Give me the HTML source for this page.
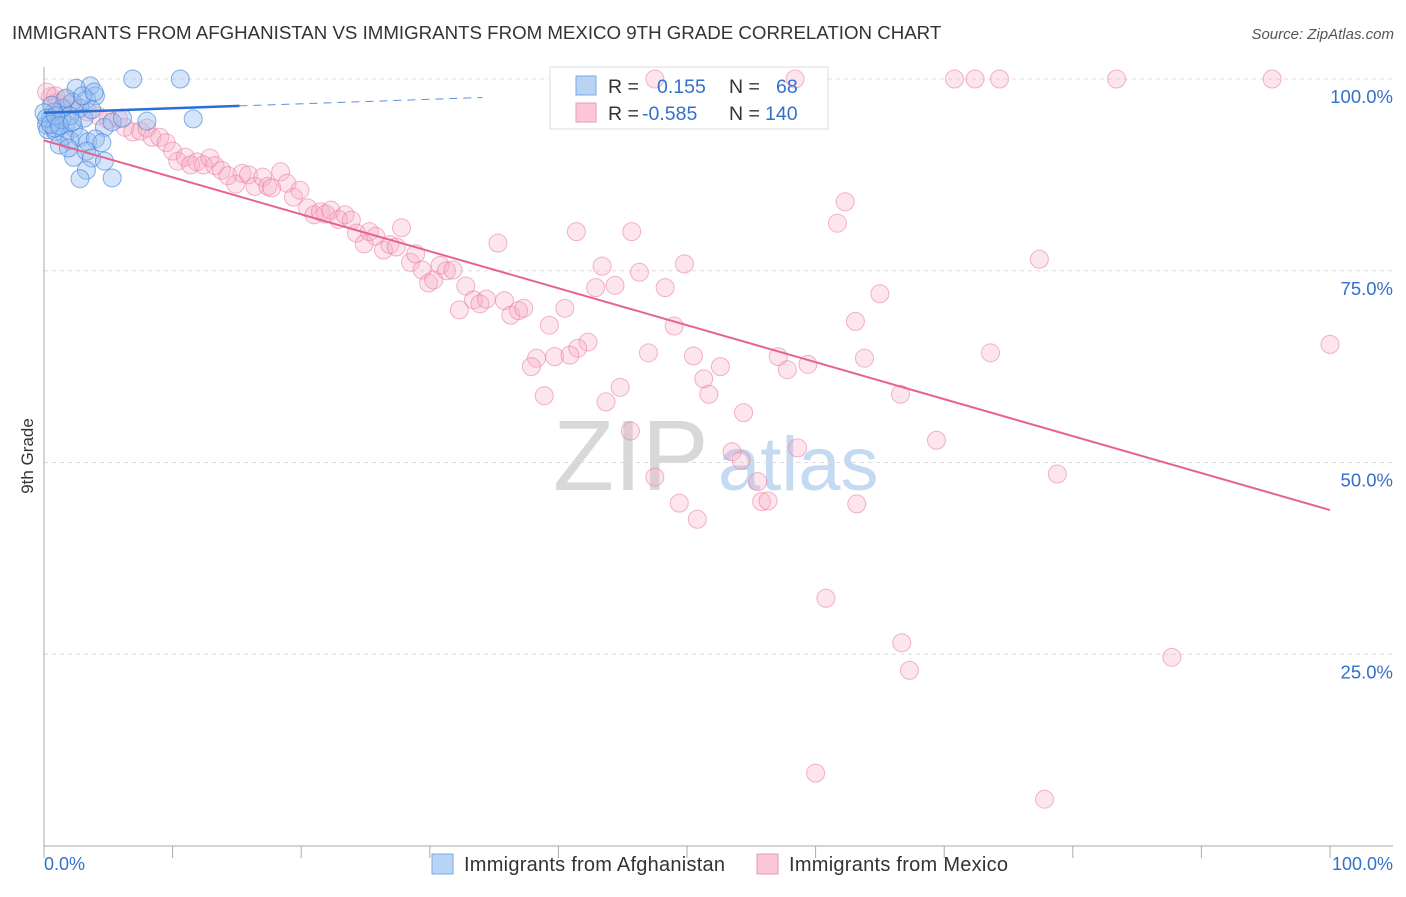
<!DOCTYPE html>
<html><head><meta charset="utf-8"><style>
body{margin:0;background:#fff;font-family:"Liberation Sans",sans-serif;}
svg text{font-family:"Liberation Sans",sans-serif;}
</style></head><body>
<svg id="chart" width="1406" height="892" xmlns="http://www.w3.org/2000/svg">
<text x="12" y="39" font-size="18.7" fill="#333">IMMIGRANTS FROM AFGHANISTAN VS IMMIGRANTS FROM MEXICO 9TH GRADE CORRELATION CHART</text>
<text x="1394" y="39" font-size="15" fill="#555" text-anchor="end" font-style="italic">Source: ZipAtlas.com</text>
<g>
<text x="553" y="490" font-size="100" fill="#d8d8d8" font-family="Liberation Serif,serif">ZIP</text>
<text x="718" y="490" font-size="76" fill="#c4d9f2">atlas</text>
</g>
<g id="grid"></g>
<g id="axes"></g>
<g>
<rect x="550" y="67" width="278" height="62" fill="#fff" stroke="#ddd"/>
</g>
<g id="marks"></g>
<g>
<rect x="576" y="76" width="20" height="19" fill="#b9d3f5" stroke="#7aa8e6"/>
<rect x="576" y="103" width="20" height="19" fill="#fbc6d6" stroke="#ee9ab5"/>
<text x="608" y="93" font-size="19.5" fill="#333">R =</text>
<text x="657" y="93" font-size="19.5" fill="#3370cc">0.155</text>
<text x="729" y="93" font-size="19.5" fill="#333">N =</text>
<text x="776" y="93" font-size="19.5" fill="#3370cc">68</text>
<text x="608" y="120" font-size="19.5" fill="#333">R =</text>
<text x="642" y="120" font-size="19.5" fill="#3370cc">-0.585</text>
<text x="729" y="120" font-size="19.5" fill="#333">N =</text>
<text x="765" y="120" font-size="19.5" fill="#3370cc">140</text>
</g>
<g>
<rect x="432" y="854" width="21" height="20" fill="#b9d3f5" stroke="#7aa8e6"/>
<text x="464" y="871" font-size="20" fill="#333" textLength="261">Immigrants from Afghanistan</text>
<rect x="757" y="854" width="21" height="20" fill="#fbc6d6" stroke="#ee9ab5"/>
<text x="789" y="871" font-size="20" fill="#333" textLength="219">Immigrants from Mexico</text>
</g>
<text transform="translate(33,456) rotate(-90)" font-size="17" fill="#333" text-anchor="middle">9th Grade</text>
<text x="44" y="870" font-size="18" fill="#3370cc">0.0%</text>
<text x="1393" y="870" font-size="18" fill="#3370cc" text-anchor="end">100.0%</text>
</svg>
<script>
const yTicks=[100,75,50,25];
const yTickLabels=["100.0%","75.0%","50.0%","25.0%"];
const xTicks=[0,10,20,30,40,50,60,70,80,90,100];
const blueX=[6.9,10.6,3.6,2.5,4.0,3.3,2.2,2.8,1.4,0.8,0.5,1.1,1.7,2.3,3.1,3.7,4.7,5.3,6.1,8.0,11.6,0.2,0.3,0.9,1.6,2.0,2.8,3.4,4.0,4.5,2.3,3.3,3.7,4.7,3.3,2.8,5.3,1.2,1.9,0.8,1.4,2.0,0.6,1.7,3.0,3.9,0,0.2,0.5,0.9,1.2,2.2];
const blueY=[100,100,99.1,98.8,97.8,97.3,97.0,96.2,96.2,95.7,94.9,94.4,94.1,93.6,94.9,96.0,93.7,94.4,94.9,94.5,94.8,94.0,93.4,93.1,92.6,92.0,92.4,91.8,92.2,91.7,89.8,90.6,89.7,89.3,88.1,87.0,87.1,91.4,91.0,93.6,94.7,95.2,96.6,97.5,97.8,98.3,95.6,94.9,94.1,95.2,93.9,94.4];
const pinkX=[70.8,72.4,74.3,83.4,95.5,47.5,58.4,62.3,61.7,41.4,45.7,35.3,77.4,43.4,49.8,46.3,44.4,42.9,48.3,65.0,63.1,49.0,39.3,40.5,42.3,41.5,38.3,39.7,40.9,37.9,47.0,50.5,52.6,51.3,57.1,57.8,59.4,63.8,73.6,100,44.8,43.7,51.7,38.9,66.6,54.4,45.6,69.4,58.6,53.5,54.2,47.5,78.8,55.5,49.4,55.8,56.3,63.2,50.8,60.8,66.7,67.3,87.7,60.0,77.8,
0.5,1.0,1.5,2.0,2.6,3.4,4.2,5.0,5.8,6.3,6.9,7.5,8.0,8.4,9.0,9.5,10.0,10.4,11.0,11.4,11.9,12.4,12.9,13.3,13.8,14.3,14.9,15.4,15.9,16.4,17.0,17.4,17.7,18.4,18.9,19.4,19.9,20.5,21.0,21.5,21.9,22.3,22.9,23.4,23.9,24.3,24.9,25.3,25.8,26.4,26.9,27.4,27.8,28.5,28.9,29.4,29.9,30.3,30.8,31.3,31.8,32.3,32.8,33.4,33.9,34.4,35.8,36.3,36.9,37.3,0.2,0.9,1.6];
const pinkY=[100,100,100,100,100,100,100,84.0,81.2,80.1,80.1,78.6,76.5,75.6,75.9,74.8,73.1,72.8,72.8,72.0,68.4,67.8,67.9,70.1,65.7,64.9,63.6,63.8,64.0,62.5,64.3,63.9,62.5,60.9,63.8,62.1,62.8,63.6,64.3,65.4,59.8,57.9,58.9,58.7,58.9,56.5,54.1,52.9,51.9,51.4,50.3,48.1,48.5,47.5,44.7,44.9,45.0,44.6,42.6,32.3,26.5,22.9,24.6,9.5,6.1,
97.7,96.9,96.2,96.7,96.0,95.7,95.2,94.7,94.8,93.7,93.1,93.2,93.6,92.4,92.4,91.7,90.6,89.3,89.8,88.8,89.2,88.8,89.7,88.7,88.1,87.4,86.3,87.7,87.5,86.0,87.2,86.0,85.8,87.9,86.4,84.6,85.5,83.2,82.3,82.7,82.4,82.9,81.7,82.3,81.6,79.9,78.5,80.1,79.5,77.7,78.4,78.1,80.6,76.1,77.2,75.1,73.4,73.8,75.7,75.0,75.1,69.9,73.0,71.2,70.7,71.3,71.1,69.2,69.8,70.1,98.3,97.8,97.3];
const blueTrend=[95.6,0.0585]; // intercept, slope
const blueSolidEnd=15.2, blueDashEnd=34.1;
const pinkTrend=[92.0,-0.482];
const pinkEnd=100;

const X0=44,X1=1330,Y0=846,Y1=79;
const sx=v=>X0+(X1-X0)*v/100;
const sy=v=>Y0-(Y0-Y1)*v/100;
const NS="http://www.w3.org/2000/svg";
function mk(tag,attrs,parent){const e=document.createElementNS(NS,tag);for(const k in attrs)e.setAttribute(k,attrs[k]);parent.appendChild(e);return e;}
const grid=document.getElementById('grid'),axes=document.getElementById('axes'),marks=document.getElementById('marks');
yTicks.forEach((t,i)=>{
  const l=mk('line',{x1:X0,x2:1393,y1:sy(t),y2:sy(t),stroke:'#ddd','stroke-dasharray':'4,4'},grid);
  
  
  const tx=mk('text',{x:1393,y:sy(t)+24,'font-size':18.5,fill:'#3370cc','text-anchor':'end'},grid);
  tx.textContent=yTickLabels[i];
  
  
});
const ya=mk('line',{x1:X0,x2:X0,y1:67,y2:Y0,stroke:'#aaa'},axes);


const xa=mk('line',{x1:X0,x2:1393,y1:Y0,y2:Y0,stroke:'#aaa'},axes);


xTicks.forEach(t=>{
  const l=mk('line',{x1:sx(t),x2:sx(t),y1:Y0,y2:Y0+12,stroke:'#aaa'},axes);
  
  
});
pinkX.forEach((x,i)=>{
  const c=mk('circle',{cx:sx(x),cy:sy(pinkY[i]),r:9,fill:'rgba(248,170,195,0.3)',stroke:'rgba(232,120,160,0.55)','stroke-width':1},marks);
  
  
});
blueX.forEach((x,i)=>{
  const c=mk('circle',{cx:sx(x),cy:sy(blueY[i]),r:9,fill:'rgba(150,190,240,0.4)',stroke:'rgba(70,130,220,0.65)','stroke-width':1},marks);
  
  
});
const pl=mk('line',{x1:sx(0),y1:sy(pinkTrend[0]),x2:sx(pinkEnd),y2:sy(pinkTrend[0]+pinkTrend[1]*pinkEnd),stroke:'#e8628f','stroke-width':2},marks);


const bl=mk('line',{x1:sx(0),y1:sy(blueTrend[0]),x2:sx(blueSolidEnd),y2:sy(blueTrend[0]+blueTrend[1]*blueSolidEnd),stroke:'#2a6fd6','stroke-width':2.5},marks);


const bd=mk('line',{x1:sx(blueSolidEnd),y1:sy(blueTrend[0]+blueTrend[1]*blueSolidEnd),x2:sx(blueDashEnd),y2:sy(blueTrend[0]+blueTrend[1]*blueDashEnd),stroke:'#5a90dd','stroke-width':1,'stroke-dasharray':'8,6'},marks);


</script>
</body></html>
